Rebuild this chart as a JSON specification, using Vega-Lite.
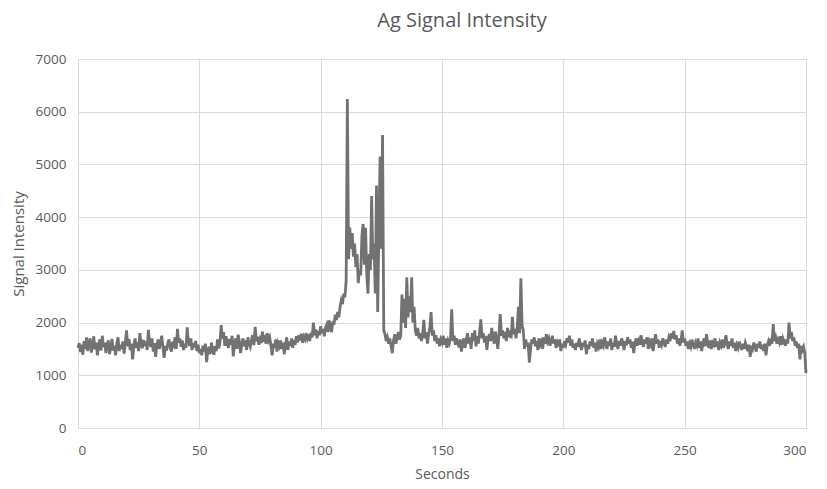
{
"$schema":"https://vega.github.io/schema/vega-lite/v6.json",
"autosize":{"type":"none"},
"padding":{"left":78,"top":59,"right":21,"bottom":61},
"width":728,"height":369,
"background":"white",
"title":{"text":"Ag Signal Intensity","fontSize":20,"font":"Open Sans","fontWeight":"normal","color":"#595959","anchor":"middle","dx":20,"offset":21},
"config":{"view":{"stroke":null},"axis":{"labelFont":"Open Sans","titleFont":"Open Sans","labelColor":"#595959","titleColor":"#595959","labelFontSize":13.5,"titleFontSize":14,"titleFontWeight":"normal","gridColor":"#d9d9d9","ticks":false,"domain":false,"format":"d"}},
"data":{"values":[
{"t":0,"v":1520},{"t":0.5,"v":1610},{"t":1,"v":1440},{"t":1.5,"v":1580},{"t":2,"v":1390},{"t":2.5,"v":1650},{"t":3,"v":1500},{"t":3.5,"v":1720},{"t":4,"v":1460},{"t":4.5,"v":1600},{"t":5,"v":1700},{"t":5.5,"v":1430},{"t":6,"v":1560},{"t":6.5,"v":1740},{"t":7,"v":1490},{"t":7.5,"v":1620},{"t":8,"v":1380},{"t":8.5,"v":1590},{"t":9,"v":1680},{"t":9.5,"v":1470},{"t":10,"v":1750},
{"t":10.5,"v":1540},{"t":11,"v":1620},{"t":11.5,"v":1420},{"t":12,"v":1580},{"t":12.5,"v":1660},{"t":13,"v":1400},{"t":13.5,"v":1530},{"t":14,"v":1690},{"t":14.5,"v":1470},{"t":15,"v":1560},{"t":15.5,"v":1380},{"t":16,"v":1600},{"t":16.5,"v":1720},{"t":17,"v":1460},{"t":17.5,"v":1580},{"t":18,"v":1500},{"t":18.5,"v":1640},{"t":19,"v":1410},{"t":19.5,"v":1620},{"t":20,"v":1850},{"t":20.5,"v":1550},{"t":21,"v":1690},{"t":21.5,"v":1480},{"t":22,"v":1600},{"t":22.5,"v":1300},{"t":23,"v":1560},{"t":23.5,"v":1700},{"t":24,"v":1520},{"t":24.5,"v":1630},{"t":25,"v":1460},{"t":25.5,"v":1800},{"t":26,"v":1590},{"t":26.5,"v":1510},{"t":27,"v":1670},{"t":27.5,"v":1560},{"t":28,"v":1640},{"t":28.5,"v":1480},{"t":29,"v":1860},{"t":29.5,"v":1620},{"t":30,"v":1540},{"t":30.5,"v":1700},{"t":31,"v":1450},{"t":31.5,"v":1610},{"t":32,"v":1350},{"t":32.5,"v":1580},{"t":33,"v":1680},{"t":33.5,"v":1500},{"t":34,"v":1620},{"t":34.5,"v":1750},{"t":35,"v":1530},{"t":35.5,"v":1330},{"t":36,"v":1560},{"t":36.5,"v":1470},{"t":37,"v":1600},{"t":37.5,"v":1680},{"t":38,"v":1520},{"t":38.5,"v":1450},{"t":39,"v":1640},{"t":39.5,"v":1580},{"t":40,"v":1720},{"t":40.5,"v":1500},{"t":41,"v":1880},{"t":41.5,"v":1620},{"t":42,"v":1700},{"t":42.5,"v":1540},{"t":43,"v":1660},{"t":43.5,"v":1480},{"t":44,"v":1600},{"t":44.5,"v":1520},{"t":45,"v":1910},{"t":45.5,"v":1640},{"t":46,"v":1560},{"t":46.5,"v":1700},{"t":47,"v":1480},{"t":47.5,"v":1610},{"t":48,"v":1530},{"t":48.5,"v":1650},{"t":49,"v":1460},{"t":49.5,"v":1580},{"t":50,"v":1420},
{"t":50.5,"v":1500},{"t":51,"v":1380},{"t":51.5,"v":1560},{"t":52,"v":1450},{"t":52.5,"v":1600},{"t":53,"v":1250},{"t":53.5,"v":1470},{"t":54,"v":1540},{"t":54.5,"v":1400},{"t":55,"v":1620},{"t":55.5,"v":1480},{"t":56,"v":1390},{"t":56.5,"v":1550},{"t":57,"v":1460},{"t":57.5,"v":1680},{"t":58,"v":1510},
{"t":58.5,"v":1620},{"t":59,"v":1950},{"t":59.5,"v":1700},{"t":60,"v":1820},{"t":60.5,"v":1560},{"t":61,"v":1740},{"t":61.5,"v":1600},{"t":62,"v":1520},{"t":62.5,"v":1690},{"t":63,"v":1580},{"t":63.5,"v":1750},{"t":64,"v":1360},{"t":64.5,"v":1610},{"t":65,"v":1700},{"t":65.5,"v":1500},{"t":66,"v":1770},{"t":66.5,"v":1640},{"t":67,"v":1420},{"t":67.5,"v":1590},{"t":68,"v":1700},{"t":68.5,"v":1550},{"t":69,"v":1660},{"t":69.5,"v":1480},{"t":70,"v":1720},{"t":70.5,"v":1600},{"t":71,"v":1540},{"t":71.5,"v":1680},{"t":72,"v":1760},{"t":72.5,"v":1570},{"t":73,"v":1920},{"t":73.5,"v":1650},{"t":74,"v":1730},{"t":74.5,"v":1580},{"t":75,"v":1680},{"t":75.5,"v":1610},{"t":76,"v":1830},{"t":76.5,"v":1640},{"t":77,"v":1700},{"t":77.5,"v":1600},{"t":78,"v":1800},{"t":78.5,"v":1660},{"t":79,"v":1720},{"t":79.5,"v":1560},{"t":80,"v":1380},{"t":80.5,"v":1600},{"t":81,"v":1520},{"t":81.5,"v":1680},{"t":82,"v":1450},{"t":82.5,"v":1610},{"t":83,"v":1550},{"t":83.5,"v":1660},{"t":84,"v":1500},{"t":84.5,"v":1620},{"t":85,"v":1400},{"t":85.5,"v":1580},{"t":86,"v":1720},{"t":86.5,"v":1480},{"t":87,"v":1640},{"t":87.5,"v":1560},{"t":88,"v":1700},{"t":88.5,"v":1520},{"t":89,"v":1670},{"t":89.5,"v":1580},{"t":90,"v":1740},
{"t":90.5,"v":1620},{"t":91,"v":1760},{"t":91.5,"v":1660},{"t":92,"v":1790},{"t":92.5,"v":1620},{"t":93,"v":1730},{"t":93.5,"v":1680},{"t":94,"v":1800},{"t":94.5,"v":1700},{"t":95,"v":1780},{"t":95.5,"v":1650},{"t":96,"v":1810},{"t":96.5,"v":1720},{"t":97,"v":2000},{"t":97.5,"v":1760},{"t":98,"v":1870},{"t":98.5,"v":1700},{"t":99,"v":1840},{"t":99.5,"v":1760},{"t":100,"v":1930},{"t":100.5,"v":1800},{"t":101,"v":1880},{"t":101.5,"v":1740},{"t":102,"v":1900},{"t":102.5,"v":1960},{"t":103,"v":1820},{"t":103.5,"v":2040},{"t":104,"v":1900},{"t":104.5,"v":1820},{"t":105,"v":2020},
{"t":105.5,"v":1960},{"t":106,"v":2150},{"t":106.5,"v":2050},{"t":107,"v":2200},{"t":107.5,"v":2100},{"t":108,"v":2300},{"t":108.5,"v":2420},{"t":109,"v":2350},{"t":109.5,"v":2550},{"t":110,"v":2480},{"t":110.5,"v":2800},
{"t":111,"v":6240},{"t":111.5,"v":3200},{"t":112,"v":3800},{"t":112.5,"v":3400},{"t":113,"v":3700},{"t":113.5,"v":3250},{"t":114,"v":3500},{"t":114.5,"v":3050},{"t":115,"v":3300},{"t":115.5,"v":2750},{"t":116,"v":3000},{"t":116.5,"v":2900},{"t":117,"v":3650},{"t":117.5,"v":3870},{"t":118,"v":3100},{"t":118.5,"v":3800},{"t":119,"v":2900},{"t":119.5,"v":2550},{"t":120,"v":3300},{"t":120.5,"v":3000},{"t":121,"v":4400},{"t":121.5,"v":3200},{"t":122,"v":3500},{"t":122.5,"v":2550},{"t":123,"v":4600},{"t":123.5,"v":2200},{"t":124,"v":3800},{"t":124.5,"v":5150},{"t":125,"v":3400},{"t":125.5,"v":5560},{"t":126,"v":1850},
{"t":126.5,"v":1780},{"t":127,"v":1650},{"t":127.5,"v":1720},{"t":128,"v":1600},{"t":128.5,"v":1700},{"t":129,"v":1550},{"t":129.5,"v":1420},{"t":130,"v":1650},{"t":130.5,"v":1780},{"t":131,"v":1600},{"t":131.5,"v":1700},{"t":132,"v":1820},{"t":132.5,"v":1680},{"t":133,"v":1750},
{"t":133.5,"v":2530},{"t":134,"v":2000},{"t":134.5,"v":2450},{"t":135,"v":1900},{"t":135.5,"v":2860},{"t":136,"v":2100},{"t":136.5,"v":2500},{"t":137,"v":2200},{"t":137.5,"v":2860},{"t":138,"v":2000},{"t":138.5,"v":2300},{"t":139,"v":1850},{"t":139.5,"v":1750},{"t":140,"v":1900},
{"t":140.5,"v":1700},{"t":141,"v":1800},{"t":141.5,"v":1650},{"t":142,"v":1750},{"t":142.5,"v":2050},{"t":143,"v":1700},{"t":143.5,"v":1820},{"t":144,"v":1600},{"t":144.5,"v":1780},{"t":145,"v":1900},{"t":145.5,"v":2200},{"t":146,"v":1750},{"t":146.5,"v":1850},{"t":147,"v":1650},{"t":147.5,"v":1760},{"t":148,"v":1600},{"t":148.5,"v":1700},{"t":149,"v":1550},{"t":149.5,"v":1680},{"t":150,"v":1620},{"t":150.5,"v":1750},{"t":151,"v":1580},{"t":151.5,"v":1700},{"t":152,"v":1520},{"t":152.5,"v":1660},{"t":153,"v":1600},{"t":153.5,"v":1700},{"t":154,"v":2250},{"t":154.5,"v":1650},{"t":155,"v":1750},
{"t":155.5,"v":1580},{"t":156,"v":1700},{"t":156.5,"v":1620},{"t":157,"v":1530},{"t":157.5,"v":1680},{"t":158,"v":1450},{"t":158.5,"v":1600},{"t":159,"v":1700},{"t":159.5,"v":1520},{"t":160,"v":1650},{"t":160.5,"v":1800},{"t":161,"v":1600},{"t":161.5,"v":1720},{"t":162,"v":1500},{"t":162.5,"v":1800},{"t":163,"v":1650},{"t":163.5,"v":1850},{"t":164,"v":1550},{"t":164.5,"v":1740},{"t":165,"v":1600},{"t":165.5,"v":1820},{"t":166,"v":2060},{"t":166.5,"v":1700},{"t":167,"v":1800},{"t":167.5,"v":1620},{"t":168,"v":1750},{"t":168.5,"v":1480},{"t":169,"v":1680},{"t":169.5,"v":1780},{"t":170,"v":1650},{"t":170.5,"v":1900},{"t":171,"v":1720},{"t":171.5,"v":1600},{"t":172,"v":1830},{"t":172.5,"v":1680},{"t":173,"v":1500},{"t":173.5,"v":1780},{"t":174,"v":2160},{"t":174.5,"v":1750},{"t":175,"v":1850},{"t":175.5,"v":1700},{"t":176,"v":1820},{"t":176.5,"v":1650},{"t":177,"v":1900},{"t":177.5,"v":1720},{"t":178,"v":1850},{"t":178.5,"v":1700},{"t":179,"v":2110},{"t":179.5,"v":1780},{"t":180,"v":1880},{"t":180.5,"v":1700},{"t":181,"v":1900},{"t":181.5,"v":2300},{"t":182,"v":1800},{"t":182.5,"v":2840},{"t":183,"v":1950},{"t":183.5,"v":1850},{"t":184,"v":1500},
{"t":184.5,"v":1680},{"t":185,"v":1550},{"t":185.5,"v":1620},{"t":186,"v":1240},{"t":186.5,"v":1500},{"t":187,"v":1680},{"t":187.5,"v":1600},{"t":188,"v":1720},{"t":188.5,"v":1550},{"t":189,"v":1650},{"t":189.5,"v":1480},{"t":190,"v":1700},{"t":190.5,"v":1580},{"t":191,"v":1640},{"t":191.5,"v":1500},{"t":192,"v":1720},{"t":192.5,"v":1600},{"t":193,"v":1780},{"t":193.5,"v":1640},{"t":194,"v":1700},{"t":194.5,"v":1560},{"t":195,"v":1650},{"t":195.5,"v":1750},{"t":196,"v":1600},{"t":196.5,"v":1680},{"t":197,"v":1520},{"t":197.5,"v":1620},{"t":198,"v":1550},{"t":198.5,"v":1680},{"t":199,"v":1460},{"t":199.5,"v":1600},{"t":200,"v":1520},{"t":200.5,"v":1650},{"t":201,"v":1580},{"t":201.5,"v":1700},{"t":202,"v":1620},{"t":202.5,"v":1750},{"t":203,"v":1560},{"t":203.5,"v":1680},{"t":204,"v":1520},{"t":204.5,"v":1600},{"t":205,"v":1480},{"t":205.5,"v":1620},{"t":206,"v":1540},{"t":206.5,"v":1700},{"t":207,"v":1580},{"t":207.5,"v":1480},{"t":208,"v":1620},{"t":208.5,"v":1540},{"t":209,"v":1660},{"t":209.5,"v":1400},{"t":210,"v":1580},{"t":210.5,"v":1500},{"t":211,"v":1640},{"t":211.5,"v":1560},{"t":212,"v":1700},{"t":212.5,"v":1520},{"t":213,"v":1620},{"t":213.5,"v":1450},{"t":214,"v":1600},{"t":214.5,"v":1540},{"t":215,"v":1680},{"t":215.5,"v":1500},{"t":216,"v":1620},{"t":216.5,"v":1560},{"t":217,"v":1720},{"t":217.5,"v":1600},{"t":218,"v":1500},{"t":218.5,"v":1640},{"t":219,"v":1560},{"t":219.5,"v":1700},{"t":220,"v":1480},{"t":220.5,"v":1620},{"t":221,"v":1540},{"t":221.5,"v":1750},{"t":222,"v":1600},{"t":222.5,"v":1500},{"t":223,"v":1650},{"t":223.5,"v":1560},{"t":224,"v":1700},{"t":224.5,"v":1620},{"t":225,"v":1480},{"t":225.5,"v":1650},{"t":226,"v":1570},{"t":226.5,"v":1720},{"t":227,"v":1600},{"t":227.5,"v":1680},{"t":228,"v":1520},{"t":228.5,"v":1640},{"t":229,"v":1420},{"t":229.5,"v":1600},{"t":230,"v":1700},{"t":230.5,"v":1560},{"t":231,"v":1650},{"t":231.5,"v":1580},{"t":232,"v":1760},{"t":232.5,"v":1620},{"t":233,"v":1540},{"t":233.5,"v":1680},{"t":234,"v":1600},{"t":234.5,"v":1720},{"t":235,"v":1500},{"t":235.5,"v":1640},{"t":236,"v":1580},{"t":236.5,"v":1700},{"t":237,"v":1460},{"t":237.5,"v":1620},{"t":238,"v":1780},{"t":238.5,"v":1600},{"t":239,"v":1680},{"t":239.5,"v":1520},{"t":240,"v":1650},{"t":240.5,"v":1580},{"t":241,"v":1700},{"t":241.5,"v":1620},{"t":242,"v":1540},{"t":242.5,"v":1680},{"t":243,"v":1600},{"t":243.5,"v":1720},{"t":244,"v":1650},{"t":244.5,"v":1800},{"t":245,"v":1700},{"t":245.5,"v":1840},{"t":246,"v":1680},{"t":246.5,"v":1760},{"t":247,"v":1600},{"t":247.5,"v":1700},{"t":248,"v":1560},{"t":248.5,"v":1650},{"t":249,"v":1850},{"t":249.5,"v":1620},{"t":250,"v":1700},{"t":250.5,"v":1560},{"t":251,"v":1640},{"t":251.5,"v":1500},{"t":252,"v":1600},{"t":252.5,"v":1540},{"t":253,"v":1680},{"t":253.5,"v":1580},{"t":254,"v":1500},{"t":254.5,"v":1620},{"t":255,"v":1560},{"t":255.5,"v":1700},{"t":256,"v":1520},{"t":256.5,"v":1640},{"t":257,"v":1460},{"t":257.5,"v":1600},{"t":258,"v":1700},{"t":258.5,"v":1550},{"t":259,"v":1780},{"t":259.5,"v":1600},{"t":260,"v":1520},{"t":260.5,"v":1660},{"t":261,"v":1500},{"t":261.5,"v":1620},{"t":262,"v":1580},{"t":262.5,"v":1700},{"t":263,"v":1540},{"t":263.5,"v":1640},{"t":264,"v":1480},{"t":264.5,"v":1620},{"t":265,"v":1560},{"t":265.5,"v":1680},{"t":266,"v":1520},{"t":266.5,"v":1600},{"t":267,"v":1760},{"t":267.5,"v":1580},{"t":268,"v":1500},{"t":268.5,"v":1640},{"t":269,"v":1560},{"t":269.5,"v":1700},{"t":270,"v":1520},{"t":270.5,"v":1620},{"t":271,"v":1460},{"t":271.5,"v":1580},{"t":272,"v":1520},{"t":272.5,"v":1640},{"t":273,"v":1560},{"t":273.5,"v":1480},{"t":274,"v":1600},{"t":274.5,"v":1500},{"t":275,"v":1620},{"t":275.5,"v":1550},{"t":276,"v":1460},{"t":276.5,"v":1580},{"t":277,"v":1350},{"t":277.5,"v":1560},{"t":278,"v":1500},{"t":278.5,"v":1620},{"t":279,"v":1540},{"t":279.5,"v":1450},{"t":280,"v":1600},{"t":280.5,"v":1520},{"t":281,"v":1640},{"t":281.5,"v":1500},{"t":282,"v":1580},{"t":282.5,"v":1460},{"t":283,"v":1600},{"t":283.5,"v":1380},{"t":284,"v":1560},{"t":284.5,"v":1640},{"t":285,"v":1560},{"t":285.5,"v":1700},{"t":286,"v":1600},{"t":286.5,"v":1970},{"t":287,"v":1650},{"t":287.5,"v":1720},{"t":288,"v":1600},{"t":288.5,"v":1680},{"t":289,"v":1620},{"t":289.5,"v":1740},{"t":290,"v":1580},{"t":290.5,"v":1700},{"t":291,"v":1640},{"t":291.5,"v":1560},{"t":292,"v":1680},{"t":292.5,"v":1600},{"t":293,"v":2000},{"t":293.5,"v":1700},{"t":294,"v":1820},{"t":294.5,"v":1650},{"t":295,"v":1720},{"t":295.5,"v":1560},{"t":296,"v":1640},{"t":296.5,"v":1520},{"t":297,"v":1600},{"t":297.5,"v":1300},{"t":298,"v":1560},{"t":298.5,"v":1480},{"t":299,"v":1540},{"t":299.5,"v":1420},{"t":300,"v":1040}
]},
"mark":{"type":"line","color":"#727272","strokeWidth":2.8,"strokeJoin":"miter","strokeMiterLimit":4},
"encoding":{
"x":{"field":"t","type":"quantitative","title":"Seconds","scale":{"domain":[0,300],"nice":false},"axis":{"values":[0,50,100,150,200,250,300],"labelPadding":15,"titlePadding":11,"domain":true,"domainColor":"#d9d9d9"}},
"y":{"field":"v","type":"quantitative","title":"Signal Intensity","scale":{"domain":[0,7000],"nice":false},"axis":{"values":[0,1000,2000,3000,4000,5000,6000,7000],"labelPadding":12,"titlePadding":9,"titleFontSize":15}}
}
}
